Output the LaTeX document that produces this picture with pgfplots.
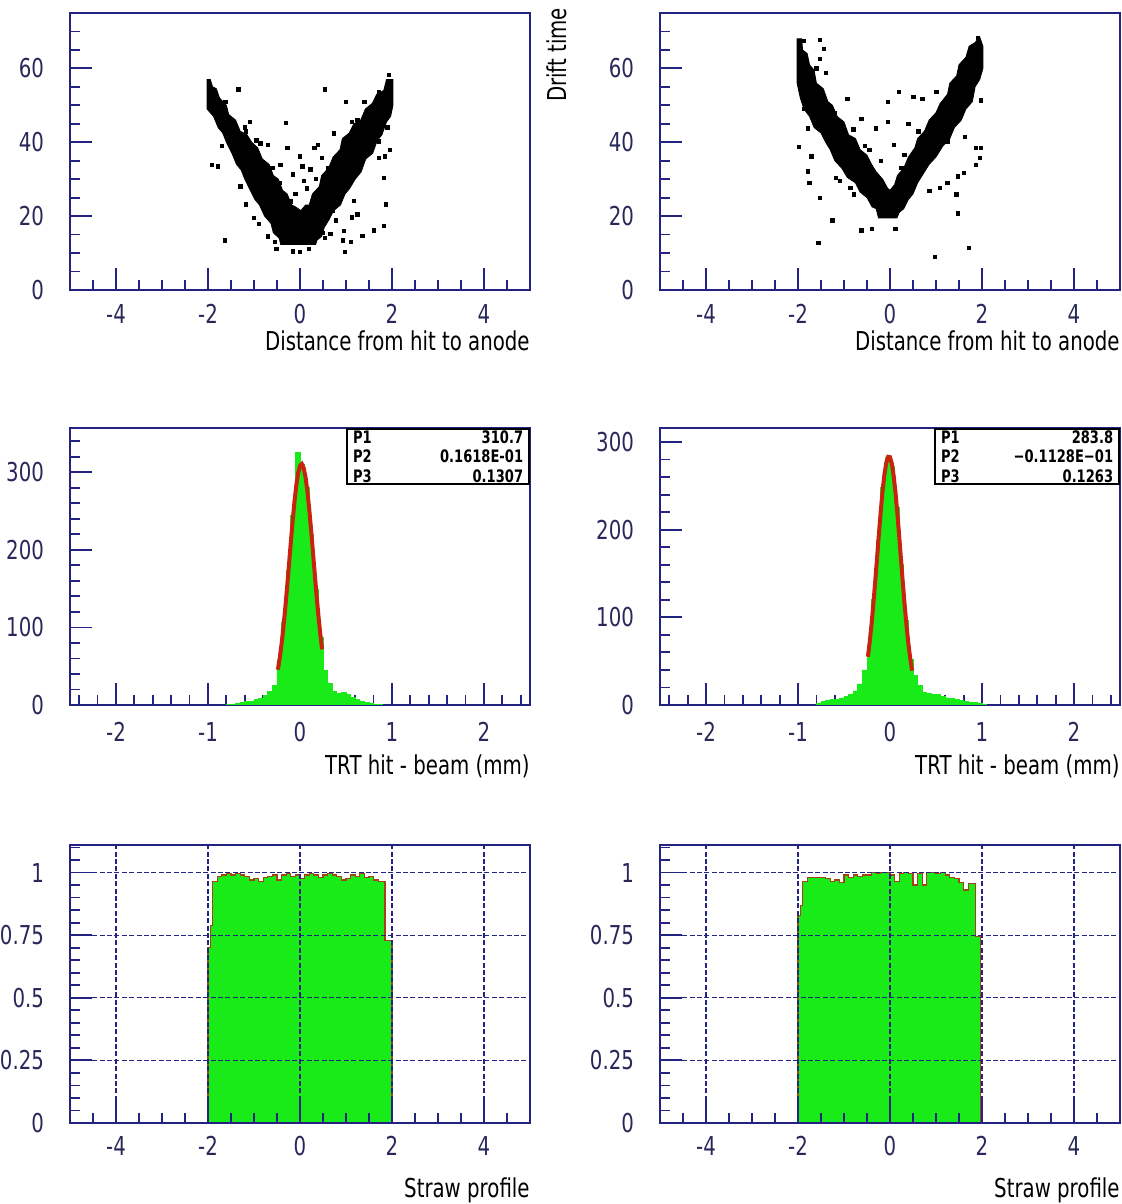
\documentclass[border=0pt]{standalone}
\usepackage{fontspec}
\setmainfont{DejaVu Sans}[FakeStretch=0.76]
\usepackage{pgfplots}
\pgfplotsset{compat=1.18}
\definecolor{rootnavy}{RGB}{35,35,130}
\definecolor{ticktext}{RGB}{40,40,90}
\definecolor{histgreen}{RGB}{25,235,25}
\definecolor{fitred}{RGB}{200,35,15}
\definecolor{histedge}{RGB}{160,70,20}

\pgfplotsset{
  rootaxis/.style={
    scale only axis, anchor=south west,
    axis line style={rootnavy, line width=1pt},
    tick style={rootnavy, line width=0.9pt},
    major tick length=11pt, minor tick length=5pt,
    tick pos=left, tick align=inside,
    ticklabel style={font=\fontsize{13}{15}\selectfont, text=ticktext},
    yticklabel style={xshift=-9.5pt},
    /pgf/number format/assume math mode=true,
    xlabel style={at={(rel axis cs:1,0)}, anchor=north east,
                  inner sep=0pt, font=\fontsize{13}{15}\selectfont},
  },
  toprow/.style={rootaxis, width=230pt, height=138.5pt,
    xmin=-5, xmax=5, ymin=0, ymax=75,
    xtick={-4,-2,0,2,4}, minor xtick={-4.5,-4,...,4.5},
    ytick={0,20,40,60}, minor ytick={0,5,...,75},
    xticklabel style={yshift=-3.5pt},
    xlabel style={yshift=-20pt},
    xlabel={Distance from hit to anode}},
  midrow/.style={rootaxis, width=230pt, height=138.5pt,
    xmin=-2.5, xmax=2.5, ymin=0,
    xtick={-2,-1,0,1,2}, minor xtick={-2.4,-2.2,...,2.41},
    ytick={0,100,200,300}, minor ytick={0,20,...,340},
    xticklabel style={yshift=-5pt},
    xlabel style={yshift=-24.5pt},
    xlabel={TRT hit - beam (mm)}},
  botrow/.style={rootaxis, width=230pt, height=139pt,
    xmin=-5, xmax=5, ymin=0, ymax=1.11,
    xtick={-4,-2,0,2,4}, minor xtick={-4.5,-4,...,4.5},
    ytick={0,0.25,0.5,0.75,1}, minor ytick={0,0.05,...,1.1},
    xmajorgrids, ymajorgrids, axis on top,
    major grid style={rootnavy, line width=0.6pt, dash pattern=on 2.5pt off 1.2pt},
    xticklabel style={yshift=-3pt},
    xlabel style={yshift=-27pt},
    xlabel={Straw profile}},
}
\tikzset{
  statbox/.style={draw=black, line width=0.9pt, fill=white, anchor=north east,
    text width=85pt, inner xsep=3pt, inner ysep=0.8pt, align=left,
    font=\fontsize{8.6}{9.8}\selectfont\bfseries},
}

\begin{document}
\begin{tikzpicture}
\path[use as bounding box] (0,0) rectangle (561pt,602pt);

% ---- row 1: drift time vs distance ----
\begin{axis}[toprow, at={(35pt,457pt)}]
  \addplot[fill=black, draw=black] coordinates {
    (-2.02,57) (-1.95,57) (-1.9,55) (-1.82,54.5) (-1.75,52) (-1.6,50) (-1.55,47.5)
    (-1.4,46) (-1.3,43) (-1.15,42) (-1.05,40) (-0.92,38.5) (-0.82,35.5) (-0.67,34)
    (-0.58,31) (-0.47,30) (-0.38,27) (-0.28,26) (-0.18,23) (-0.1,22.5) (0.02,21.5)
    (0.12,23) (0.2,23) (0.27,26) (0.42,28) (0.47,31) (0.62,33) (0.72,36) (0.87,38)
    (0.92,41) (1.07,42.5) (1.17,45) (1.32,46) (1.42,49) (1.57,50.5) (1.67,53)
    (1.82,54) (1.88,57) (2.02,57)
    (2.02,50) (1.97,47) (1.88,45.5) (1.78,42) (1.68,40.5) (1.58,37) (1.43,35.5)
    (1.33,32) (1.2,30) (1.08,27.5) (0.98,26) (0.88,23) (0.73,21.5) (0.63,19)
    (0.53,17) (0.47,14.5) (0.37,13.5) (0.34,12.3)
    (-0.42,12.3) (-0.45,14) (-0.58,15.5) (-0.63,18) (-0.77,20) (-0.88,23)
    (-0.98,24.5) (-1.08,27) (-1.2,30) (-1.28,32.5) (-1.38,34) (-1.48,37)
    (-1.6,40) (-1.68,42.5) (-1.78,44) (-1.88,47) (-2.02,49)
  } -- cycle;
  \addplot[only marks, mark=square*, mark size=0.85pt, black] coordinates {
    (-1.34,54.3) (0.54,54.3) (-0.31,45.3) (1.0,51) (1.4,51) (1.71,53.6) (1.93,58.2)
    (-0.86,39.7) (-0.27,38.4) (0.31,38.4) (0,36.2) (-1.91,33.9) (-1.79,33.5)
    (-0.43,33.9) (0.47,35.7) (0.23,32.6) (-0.16,31.3) (0.08,29.5) (1.71,35.7)
    (1.83,30.4) (-1.17,23.2) (1.87,23.2) (1.17,24.1) (1.25,20.5) (0.78,18.8)
    (0.66,15.2) (1.36,14.7) (1.6,16.1) (1.83,17.4) (-0.89,17.9) (-1.63,13.4)
    (-0.51,11.2) (-0.16,10.5) (0,10.3) (0.19,11.2) (0.97,10.3) (0.93,13.4)
    (0.54,14.1) (1.13,19.6) (-0.86,26.8) (1.71,40.2) (1.85,36.2) (1.13,45.5)
    (1.25,46) (0.74,42.4) (0.39,39.3) (-0.7,39.3) (-1.09,45.5) (-1.17,42.9)
    (-0.1,26) (0.15,27.5) (0.35,30) (0.6,33) (0.05,33.5) (0.42,24.5) (-0.2,24)
    (0.7,21.5) (1.95,38) (1.9,44) (-1.9,49) (0.95,16) (1.1,13) (-0.7,14.5)
    (-1.0,19.5) (0.25,18) (-0.35,20.5) (-1.62,51) (-1.2,44) (-0.95,40.5)
    (-0.6,33) (-0.45,29) (0.55,29.5) (0.85,35) (1.3,43) (1.62,48) (1.95,49)
    (0.5,15.5) (-0.55,13) (-1.3,28) (-1.7,39)
  };
\end{axis}

\begin{axis}[toprow, at={(330pt,457pt)},
  ylabel={Drift time},
  ylabel style={at={(rel axis cs:-0.2017,1.02)}, anchor=south east,
                inner sep=0pt, font=\fontsize{13}{15}\selectfont}]
  \addplot[fill=black, draw=black] coordinates {
    (-2.02,68) (-1.92,68) (-1.9,65) (-1.8,64) (-1.75,61) (-1.65,59.5) (-1.6,56)
    (-1.45,54.5) (-1.35,51) (-1.25,50) (-1.15,47) (-1.0,45.5) (-0.9,42)
    (-0.75,41) (-0.65,38) (-0.5,36.5) (-0.4,34) (-0.3,32) (-0.16,30)
    (-0.05,27.5) (0.0,27) (0.1,28.5) (0.16,31) (0.3,33) (0.4,36) (0.54,38.5)
    (0.6,41) (0.75,43) (0.85,46) (1.0,48) (1.09,50.5) (1.25,53) (1.3,56)
    (1.45,58) (1.5,61) (1.65,63) (1.72,66) (1.85,67) (1.95,68.5) (2.02,66)
    (2.02,60) (1.95,57) (1.85,55) (1.79,51) (1.65,49) (1.55,46) (1.4,44)
    (1.3,41) (1.15,39) (1.0,36) (0.85,34) (0.7,31) (0.6,29) (0.5,26)
    (0.4,24.5) (0.3,22) (0.2,21) (0.15,19.5) (-0.25,19.5) (-0.3,22)
    (-0.39,22.5) (-0.5,25) (-0.65,26.5) (-0.75,29) (-0.93,30.5) (-1.05,33)
    (-1.2,35) (-1.3,38) (-1.4,40) (-1.5,42.5) (-1.65,44) (-1.75,47)
    (-1.87,49) (-1.95,52) (-2.02,56)
  } -- cycle;
  \addplot[only marks, mark=square*, mark size=0.85pt, black] coordinates {
    (-1.87,67.4) (-1.52,67.7) (-1.44,65.2) (-1.52,62.5) (-1.4,58.8) (-1.87,49.1)
    (-1.79,43.8) (-1.98,38.8) (-1.71,36.2) (-1.79,32.1) (-1.75,29) (-1.25,18.8)
    (-1.56,12.7) (-1.52,25) (-0.62,16.1) (-0.39,16.5) (0.12,16.5) (0.97,8.9)
    (1.71,11.4) (1.48,20.7) (1.44,25.9) (1.6,31.7) (1.87,38.4) (1.98,38.4)
    (1.95,35.7) (1.87,33.9) (1.63,41.5) (1.98,51.3) (1.91,68.3) (0.19,53.6)
    (0.51,52.2) (1.01,53.6) (-0.04,50.9) (0.7,51.8) (-0.93,51.8) (-0.62,46.4)
    (-0.31,43.8) (-0.04,45.5) (0.08,39.3) (0.31,36.6) (1.09,27.7) (1.25,29)
    (0.86,26.8) (1.48,30.8) (-1.17,30.4) (-0.86,27.7) (-0.78,25.9) (-1.09,29.5)
    (0.62,42.9) (1.25,40.2) (-0.2,35) (0.25,33) (-0.45,38) (0.4,45)
    (-1.2,48) (-0.8,43.5) (-0.55,39) (0.7,35) (1.1,44) (1.4,52) (-1.6,60)
    (0.05,24) (-0.1,22) (0.3,26)
  };
\end{axis}

% ---- row 2: residual histograms with gaussian fit ----
\begin{axis}[midrow, ymax=357, at={(35pt,249.5pt)}]
  \addplot[const plot, fill=histgreen, draw=histgreen] coordinates {
    (-0.80,1) (-0.75,1) (-0.70,2) (-0.65,3) (-0.60,4) (-0.55,5) (-0.50,7)
    (-0.45,9) (-0.40,12) (-0.35,17) (-0.30,25) (-0.25,57) (-0.20,107)
    (-0.15,173) (-0.10,244) (-0.05,325) (0.00,310) (0.05,281) (0.10,220)
    (0.15,149) (0.20,87) (0.25,44) (0.30,28) (0.35,18) (0.40,15) (0.45,16)
    (0.50,14) (0.55,10) (0.60,7) (0.65,5) (0.70,3) (0.75,2) (0.80,1)
    (0.85,1) (0.90,0)
  } \closedcycle;
  \addplot[fitred, line width=2pt] coordinates {
    (-0.24,45.5) (-0.22,60.7) (-0.20,79.1) (-0.18,100.7) (-0.16,125.2)
    (-0.14,152.2) (-0.12,180.5) (-0.10,209.3) (-0.08,237.0) (-0.06,262.2)
    (-0.04,283.3) (-0.02,299.0) (0.00,308.3) (0.02,310.6) (0.04,305.6)
    (0.06,293.7) (0.08,275.8) (0.10,252.9) (0.12,226.6) (0.14,198.3)
    (0.16,169.6) (0.18,141.6) (0.20,115.6) (0.22,92.1) (0.24,71.7)
  };
  \node[statbox] at (rel axis cs:1,1) {P1\hfill 310.7\\ P2\hfill 0.1618E-01\\ P3\hfill 0.1307};
\end{axis}

\begin{axis}[midrow, ymax=316, at={(330pt,249.5pt)}]
  \addplot[const plot, fill=histgreen, draw=histgreen] coordinates {
    (-0.80,2) (-0.75,4) (-0.70,5) (-0.65,6) (-0.60,6) (-0.55,8) (-0.50,10)
    (-0.45,12) (-0.40,16) (-0.35,24) (-0.30,40) (-0.25,66) (-0.20,120)
    (-0.15,188) (-0.10,248) (-0.05,282) (0.00,272) (0.05,225) (0.10,160)
    (0.15,96) (0.20,52) (0.25,34) (0.30,22) (0.35,14) (0.40,13) (0.45,12)
    (0.50,12) (0.55,10) (0.60,8) (0.65,7) (0.70,6) (0.75,5) (0.80,4)
    (0.85,3) (0.90,3) (0.95,2) (1.00,1) (1.05,0)
  } \closedcycle;
  \addplot[fitred, line width=2pt] coordinates {
    (-0.24,55.1) (-0.22,72.5) (-0.20,92.9) (-0.18,116.3) (-0.16,141.9)
    (-0.14,168.8) (-0.12,195.9) (-0.10,221.8) (-0.08,244.7) (-0.06,263.5)
    (-0.04,276.6) (-0.02,283.1) (0.00,282.7) (0.02,275.2) (0.04,261.3)
    (0.06,242.0) (0.08,218.6) (0.10,192.5) (0.12,165.3) (0.14,138.5)
    (0.16,113.2) (0.18,90.1) (0.20,70.0) (0.22,53.1) (0.24,39.2)
  };
  \node[statbox, text width=86pt] at (rel axis cs:1,1) {P1\hfill 283.8\\ P2\hfill −0.1128E−01\\ P3\hfill 0.1263};
\end{axis}

% ---- row 3: straw profile ----
\begin{axis}[botrow, at={(35pt,40.5pt)}]
  \addplot[const plot, fill=histgreen, draw=histedge, line width=0.6pt] coordinates {
    (-2.00,0.70) (-1.95,0.79) (-1.90,0.965) (-1.80,0.985) (-1.70,0.99)
    (-1.60,0.995) (-1.50,0.99) (-1.40,0.995) (-1.30,0.99) (-1.20,0.985)
    (-1.10,0.97) (-1.00,0.975) (-0.90,0.965) (-0.80,0.98) (-0.70,0.985)
    (-0.60,0.99) (-0.50,0.97) (-0.40,0.99) (-0.30,0.995) (-0.20,0.985)
    (-0.10,0.99) (0.00,0.975) (0.10,0.99) (0.20,0.995) (0.30,0.99)
    (0.40,0.98) (0.50,0.99) (0.60,0.995) (0.70,0.99) (0.80,0.985)
    (0.90,0.97) (1.00,0.975) (1.10,0.99) (1.20,0.985) (1.30,0.995)
    (1.40,0.98) (1.50,0.985) (1.60,0.97) (1.70,0.965) (1.85,0.73) (2.00,0.73)
  } \closedcycle;
\end{axis}

\begin{axis}[botrow, at={(330pt,40.5pt)}]
  \addplot[const plot, fill=histgreen, draw=histedge, line width=0.6pt] coordinates {
    (-2.00,0.83) (-1.95,0.87) (-1.90,0.965) (-1.80,0.98) (-1.60,0.98)
    (-1.40,0.975) (-1.30,0.965) (-1.20,0.97) (-1.10,0.96) (-1.00,0.99)
    (-0.90,0.98) (-0.80,0.99) (-0.70,0.985) (-0.60,0.99) (-0.50,0.99)
    (-0.40,1.0) (-0.30,0.995) (-0.20,1.0) (-0.10,1.0) (0.00,0.99)
    (0.10,0.965) (0.20,0.995) (0.30,1.0) (0.40,0.995) (0.50,0.95)
    (0.60,0.995) (0.70,0.95) (0.80,1.0) (0.90,1.0) (1.00,0.995)
    (1.10,1.0) (1.20,0.99) (1.30,0.98) (1.40,0.975) (1.50,0.96)
    (1.60,0.93) (1.70,0.955) (1.85,0.745) (1.97,0.745)
  } \closedcycle;
\end{axis}
\end{tikzpicture}
\end{document}
